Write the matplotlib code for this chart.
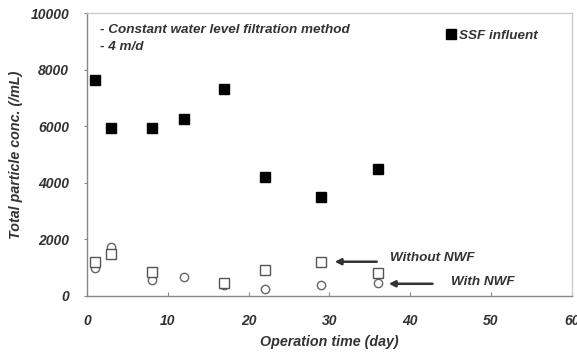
import matplotlib
matplotlib.use("Agg")
import matplotlib.pyplot as plt

plt.rcParams["font.family"] = ["Liberation Sans", "DejaVu Sans"]

days = [1, 3, 8, 12, 17, 22, 29, 36]
ssf_influent = [7650, 5950, 5950, 6250, 7300, 4200, 3500, 4500]

without_days = [1, 3, 8, 17, 22, 29, 36]
without_nwf = [1210, 1480, 860, 450, 920, 1210, 820]

with_days = [1, 3, 8, 12, 17, 22, 29, 36]
with_nwf = [990, 1720, 560, 660, 400, 250, 400, 470]

x_ticks = [0, 10, 20, 30, 40, 50, 60]
y_ticks = [0, 2000, 4000, 6000, 8000, 10000]

fig = plt.figure(figsize=(5.77, 3.54), dpi=100)
ax = fig.add_axes([0.151, 0.164, 0.840, 0.799])

ax.plot(with_days, with_nwf, linestyle="none", marker="o", markersize=6,
        markerfacecolor="white", markeredgecolor="#666666", markeredgewidth=1.0)
ax.plot(without_days, without_nwf, linestyle="none", marker="s", markersize=6.5,
        markerfacecolor="white", markeredgecolor="#555555", markeredgewidth=1.0)
ax.plot(days, ssf_influent, linestyle="none", marker="s", markersize=7,
        color="black", label="SSF influent")

ax.set_xlim(0, 60)
ax.set_ylim(0, 10000)
ax.set_xticks(x_ticks)
ax.set_yticks(y_ticks)

text_style = dict(fontstyle="italic", fontweight="bold", color="#333333")
ax.tick_params(axis="x", direction="in", length=3, pad=13, labelsize=10, colors="#888888",
               labelcolor="#333333")
ax.tick_params(axis="y", direction="out", length=2, pad=11, labelsize=10, colors="#888888",
               labelcolor="#333333")
for lbl in ax.get_xticklabels() + ax.get_yticklabels():
    lbl.set_fontstyle("italic")
    lbl.set_fontweight("bold")

for side in ax.spines.values():
    side.set_color("#888888")
    side.set_linewidth(1.0)
ax.spines["top"].set_color("#cccccc")
ax.spines["right"].set_color("#cccccc")

ax.set_xlabel("Operation time (day)", fontsize=10.3, labelpad=5, **text_style)
ax.set_ylabel("Total particle conc. (/mL)", fontsize=10.3, labelpad=5, **text_style)

ax.text(1.6, 9400, "- Constant water level filtration method", fontsize=9.7, va="center",
        **text_style)
ax.text(1.6, 8800, "- 4 m/d", fontsize=9.7, va="center", **text_style)

leg = ax.legend(loc="upper right", bbox_to_anchor=(0.95, 0.975), frameon=False,
                handlelength=0.6, handletextpad=0.3, borderpad=0.2, fontsize=9.7)
for t in leg.get_texts():
    t.set_fontstyle("italic")
    t.set_fontweight("bold")
    t.set_color("#333333")

arrow = dict(arrowstyle="-|>", color="#333333", lw=1.8, mutation_scale=9)
ax.annotate("", xy=(30.3, 1210), xytext=(36.2, 1210), arrowprops=arrow)
ax.text(37.5, 1350, "Without NWF", fontsize=9.7, va="center", **text_style)
ax.annotate("", xy=(37.0, 430), xytext=(43.1, 430), arrowprops=arrow)
ax.text(45.0, 500, "With NWF", fontsize=9.7, va="center", **text_style)

fig.savefig("out.png", dpi=100)
